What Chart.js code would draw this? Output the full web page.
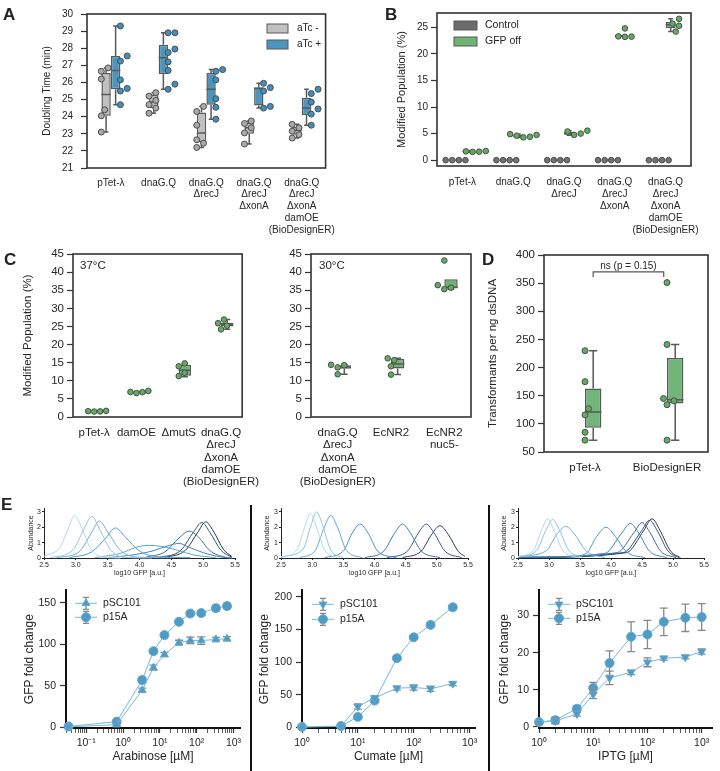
<!DOCTYPE html>
<html>
<head>
<meta charset="utf-8">
<script src="https://cdn.jsdelivr.net/npm/chart.js@4.4.1/dist/chart.umd.min.js"></script>
<style>
  body { margin: 0; background: #fff; font-family: "Liberation Sans", Arial, sans-serif; color: #222; }
  #fig { position: relative; width: 720px; height: 771px; overflow: hidden; }
  #fig canvas, .lbl, .sep { position: absolute; }
  .lbl { font-weight: bold; font-size: 17px; line-height: 17px; z-index: 2; }
  .sep { background: #111; width: 2px; z-index: 2; }
</style>
</head>
<body>
<div id="fig">
  <canvas id="chartA" width="345" height="250" style="left:0;top:0"></canvas>
  <canvas id="chartB" width="360" height="290" style="left:360px;top:0"></canvas>
  <canvas id="chartC37" width="270" height="260" style="left:0;top:240px"></canvas>
  <canvas id="chartC30" width="210" height="260" style="left:272px;top:240px"></canvas>
  <canvas id="chartD" width="240" height="260" style="left:480px;top:240px"></canvas>
  <canvas id="kdeAra" width="245" height="80" style="left:0;top:500px"></canvas>
  <canvas id="kdeCum" width="234" height="80" style="left:254px;top:500px"></canvas>
  <canvas id="kdeIptg" width="229" height="80" style="left:491px;top:500px"></canvas>
  <canvas id="doseAra" width="250" height="191" style="left:0;top:580px"></canvas>
  <canvas id="doseCum" width="234" height="191" style="left:254px;top:580px"></canvas>
  <canvas id="doseIptg" width="229" height="191" style="left:491px;top:580px"></canvas>
  <div class="lbl" style="left:3px;top:6px">A</div>
  <div class="lbl" style="left:385px;top:6px">B</div>
  <div class="lbl" style="left:4px;top:251px">C</div>
  <div class="lbl" style="left:482px;top:251px">D</div>
  <div class="lbl" style="left:1px;top:496px">E</div>
  <div class="sep" style="left:250px;top:505px;height:266px"></div>
  <div class="sep" style="left:488px;top:505px;height:266px"></div>
</div>
<script>
// ---- data ----
const strainsAB = ['pTet-λ', 'dnaG.Q', ['dnaG.Q', 'ΔrecJ'], ['dnaG.Q', 'ΔrecJ', 'ΔxonA'],
  ['dnaG.Q', 'ΔrecJ', 'ΔxonA', 'damOE', '(BioDesignER)']];
const strainsC37 = ['pTet-λ', 'damOE', 'ΔmutS', ['dnaG.Q', 'ΔrecJ', 'ΔxonA', 'damOE', '(BioDesignER)']];
const strainsC30 = [['dnaG.Q', 'ΔrecJ', 'ΔxonA', 'damOE', '(BioDesignER)'], 'EcNR2', ['EcNR2', 'nuc5-']];
const strainsD = ['pTet-λ', 'BioDesignER'];

// box stats: [whisker low, q1, median, q3, whisker high]
const doublingNegBox = [[23.1, 24.05, 25.3, 26.55, 26.85], [24.2, 24.5, 24.85, 25.3, 25.4], [22.2, 22.5, 23.05, 24.25, 24.6], [22.4, 23.0, 23.35, 23.65, 23.75], [22.75, 22.95, 23.2, 23.4, 23.55]];
const doublingPosBox = [[24.7, 25.6, 26.7, 27.55, 29.3], [25.6, 26.5, 27.45, 28.2, 28.9], [23.85, 24.7, 25.6, 26.55, 26.75], [24.5, 24.65, 25.65, 25.72, 25.95], [23.5, 24.1, 24.5, 25.1, 25.6]];
const doublingNegPts = [[26.85, 26.65, 26.2, 24.4, 24.05, 23.1], [25.4, 25.2, 24.95, 24.7, 24.5, 24.2], [24.6, 24.3, 23.5, 22.65, 22.45, 22.2], [23.75, 23.6, 23.35, 23.05, 22.4], [23.55, 23.35, 23.15, 22.95, 22.75]];
const doublingPosPts = [[29.3, 27.55, 27.25, 26.15, 25.65, 25.5, 24.7], [28.9, 28.9, 27.95, 27.75, 27.2, 26.7, 25.9, 25.6], [26.75, 26.65, 26.15, 25.05, 24.55, 23.85], [25.95, 25.7, 25.5, 24.6, 24.5], [25.6, 25.35, 24.85, 24.45, 24.15, 23.5]];

const controlBox = [[0, 0, 0, 0, 0], [0, 0, 0, 0, 0], [0, 0, 0, 0, 0], [0, 0, 0, 0, 0], [0, 0, 0, 0, 0]];
const controlPts = [[0, 0, 0, 0], [0, 0, 0, 0], [0, 0, 0, 0], [0, 0, 0, 0], [0, 0, 0, 0]];
const gfpOffBox = [[1.5, 1.55, 1.62, 1.7, 1.75], [4.3, 4.4, 4.55, 4.75, 4.9], [4.7, 4.8, 5.0, 5.35, 5.55], [23.2, 23.2, 23.35, 23.6, 23.6], [24.2, 24.9, 25.5, 26.0, 26.6]];
const gfpOffPts = [[1.55, 1.6, 1.65, 1.72], [4.9, 4.4, 4.3, 4.6, 4.75], [4.75, 5.0, 5.4, 5.55], [24.8, 23.25, 23.2, 23.3], [26.6, 25.7, 25.3, 24.2]];

const modified37Box = [[1.5, 1.55, 1.6, 1.65, 1.7], [6.6, 6.75, 6.9, 7.05, 7.2], [11.1, 11.4, 12.9, 14.4, 14.8], [24.2, 25.0, 25.5, 26.0, 26.9]];
const modified37Pts = [[1.5, 1.55, 1.6, 1.7], [7.2, 6.9, 6.6, 6.85], [14.8, 14.0, 12.2, 11.3], [26.9, 25.9, 25.2, 24.2]];
const modified30Box = [[11.8, 13.3, 13.8, 14.3, 14.5], [11.7, 13.4, 14.6, 16.0, 16.2], [35.3, 35.5, 35.8, 38.0, 38.0]];
const modified30Pts = [[14.3, 13.7, 14.4, 11.8], [16.2, 15.7, 14.0, 11.7], [43.2, 36.4, 35.7, 35.3]];

const transformBox = [[71, 93, 121, 163, 230], [71, 136, 143, 217, 241]];
const transformPts = [[230, 175, 127, 116, 85, 71], [351, 241, 145, 141, 134, 71]];

// E: dose responses
const arabinoseUM = [0.033, 0.67, 3.3, 6.7, 13.3, 33, 67, 133, 333, 667];
const arabP15A = [0.8, 6.7, 56.8, 91.6, 111, 127, 137, 137.5, 143.5, 146];
const arabP15AErr = [0.8, 1.5, 3.5, 2.5, 2.5, 3, 2.5, 2.5, 3.5, 3.5];
const arabPSC101 = [0.4, 3, 44.6, 71.8, 87.6, 101.8, 104.6, 104.4, 105.8, 106.6];
const arabPSC101Err = [0.5, 1, 2.5, 3, 2.5, 3, 4, 4.5, 2.5, 2.5];

const cumateUM = [1, 5, 10, 20, 50, 100, 200, 500];
const cumP15A = [0.8, 2, 16, 41, 106, 138, 157, 184];
const cumP15AErr = [1, 1, 2, 2, 3, 3, 3.5, 4];
const cumPSC101 = [0.5, 1.5, 32, 45, 60, 61, 59, 67];
const cumPSC101Err = [0.5, 1, 4, 3, 3, 4, 4, 3];

const iptgUM = [1, 2, 5, 10, 20, 50, 100, 200, 500, 1000];
const iptgP15A = [1.3, 1.8, 4.9, 10.5, 17.2, 24.3, 24.9, 28.3, 29.4, 29.6];
const iptgP15AErr = [0.5, 0.8, 0.8, 1.5, 3.3, 4, 3.8, 3.7, 3.7, 3.6];
const iptgPSC101 = [1.2, 1.6, 3.5, 8.8, 13.2, 14.7, 17.4, 18.5, 18.8, 20.3];
const iptgPSC101Err = [0.5, 0.8, 0.6, 1.2, 1.8, 0.6, 1.2, 0.5, 0.5, 0.7];

// E: GFP distributions [log10 GFP, abundance]
const arabKde = [
  [[2.5, 0.1], [2.75, 0.7], [2.88, 1.9], [2.98, 2.75], [3.1, 1.9], [3.22, 0.7], [3.4, 0.08], [3.7, 0]],
  [[2.6, 0.02], [2.95, 0.5], [3.13, 1.9], [3.25, 2.7], [3.37, 1.9], [3.55, 0.5], [3.8, 0.03], [4.2, 0]],
  [[2.7, 0.02], [3.05, 0.4], [3.24, 1.6], [3.37, 2.4], [3.5, 1.7], [3.7, 0.5], [4.0, 0.05], [4.5, 0.02]],
  [[2.9, 0.02], [3.25, 0.4], [3.47, 1.3], [3.62, 1.95], [3.78, 1.35], [4.0, 0.45], [4.3, 0.08], [4.8, 0.02]],
  [[3.3, 0.02], [3.7, 0.3], [3.95, 0.7], [4.15, 0.82], [4.35, 0.75], [4.6, 0.5], [4.85, 0.2], [5.2, 0.02]],
  [[3.5, 0.02], [3.9, 0.2], [4.2, 0.45], [4.45, 0.8], [4.62, 0.95], [4.78, 0.7], [5.0, 0.35], [5.3, 0.05], [5.45, 0]],
  [[4.1, 0.05], [4.4, 0.4], [4.62, 1.3], [4.78, 1.75], [4.93, 1.35], [5.1, 0.5], [5.35, 0.05], [5.45, 0]],
  [[4.3, 0.02], [4.65, 0.5], [4.85, 1.7], [4.98, 2.3], [5.1, 1.7], [5.28, 0.5], [5.45, 0.05]],
  [[4.4, 0.02], [4.72, 0.5], [4.92, 1.7], [5.04, 2.35], [5.16, 1.75], [5.32, 0.55], [5.45, 0.1]]
];
const cumKde = [
  [[2.5, 0.05], [2.75, 0.5], [2.88, 2.0], [2.97, 2.9], [3.07, 2.0], [3.2, 0.5], [3.4, 0.02]],
  [[2.5, 0.08], [2.85, 0.55], [2.98, 2.1], [3.07, 3.0], [3.17, 2.1], [3.3, 0.5], [3.5, 0.02]],
  [[2.8, 0.02], [3.05, 0.5], [3.19, 1.95], [3.3, 2.75], [3.41, 1.95], [3.55, 0.5], [3.8, 0.02]],
  [[3.2, 0.02], [3.5, 0.45], [3.64, 1.6], [3.77, 2.2], [3.9, 1.6], [4.05, 0.45], [4.35, 0.02]],
  [[3.85, 0.02], [4.15, 0.45], [4.32, 1.6], [4.45, 2.2], [4.58, 1.6], [4.75, 0.45], [5.05, 0.02]],
  [[4.2, 0.02], [4.53, 0.45], [4.7, 1.6], [4.83, 2.2], [4.96, 1.6], [5.13, 0.45], [5.4, 0.02]],
  [[4.45, 0.02], [4.75, 0.45], [4.92, 1.55], [5.05, 2.1], [5.18, 1.55], [5.35, 0.4], [5.45, 0.1]]
];
const iptgKde = [
  [[2.5, 0.1], [2.75, 0.5], [2.88, 1.8], [2.98, 2.55], [3.08, 1.8], [3.22, 0.5], [3.45, 0.03]],
  [[2.5, 0.05], [2.8, 0.5], [2.95, 1.8], [3.06, 2.5], [3.17, 1.8], [3.32, 0.5], [3.55, 0.03]],
  [[2.5, 0.1], [2.95, 0.45], [3.12, 1.5], [3.27, 2.05], [3.42, 1.5], [3.6, 0.45], [3.9, 0.03]],
  [[3.3, 0.05], [3.6, 0.3], [3.77, 1.4], [3.92, 2.0], [4.07, 1.4], [4.25, 0.4], [4.55, 0.02]],
  [[2.5, 0.05], [3.9, 0.3], [4.17, 1.6], [4.31, 2.25], [4.45, 1.6], [4.62, 0.45], [4.9, 0.02]],
  [[2.5, 0.05], [4.1, 0.35], [4.37, 1.65], [4.5, 2.3], [4.63, 1.65], [4.8, 0.45], [5.05, 0.02]],
  [[2.5, 0.03], [4.2, 0.35], [4.49, 1.75], [4.62, 2.45], [4.75, 1.75], [4.92, 0.45], [5.1, 0.02]],
  [[2.5, 0.02], [4.25, 0.35], [4.53, 1.8], [4.66, 2.55], [4.79, 1.8], [4.96, 0.45], [5.12, 0.02]]
];

// ---- styles ----
const FONT = '"Liberation Sans", Arial, sans-serif';
Chart.defaults.font.family = FONT;
Chart.defaults.color = '#262626';
Chart.defaults.animation = false;
Chart.defaults.responsive = false;
Chart.defaults.plugins.legend.display = false;
Chart.defaults.plugins.tooltip.enabled = false;

const kdeColors9 = ['#b3d5ee', '#8cc2e6', '#6aaedd', '#4d9bd3', '#5aa3d6', '#3f86c3', '#3a6fa5', '#30506f', '#263a50'];
const kdeColors7 = ['#b3d5ee', '#8cc2e6', '#62a9db', '#3f8fcc', '#3a76b0', '#335b88', '#2a3f5a'];
const kdeColors8 = ['#b3d5ee', '#8cc2e6', '#6aaedd', '#4a98d0', '#3f84c0', '#3a6fa5', '#334f75', '#283a52'];

// ---- plugins ----
const frame = {
  id: 'frame',
  afterDraw(chart, args, o) {
    if (!o.on) return;
    const { ctx, chartArea: a } = chart;
    ctx.save();
    ctx.strokeStyle = '#333';
    ctx.lineWidth = 1.6;
    ctx.strokeRect(a.left, a.top, a.right - a.left, a.bottom - a.top);
    ctx.restore();
  }
};

// medians and whiskers on top of the floating bars
const boxParts = {
  id: 'boxParts',
  afterDatasetDraw(chart, args) {
    const ds = chart.data.datasets[args.index];
    if (!ds.stats) return;
    const y = chart.scales.y, ctx = chart.ctx;
    ctx.save();
    ctx.strokeStyle = '#595959';
    ctx.lineWidth = 1.5;
    args.meta.data.forEach((bar, i) => {
      const [lo, q1, med, q3, hi] = ds.stats[i];
      const half = bar.width / 2, x = bar.x;
      ctx.beginPath();
      ctx.moveTo(x - half, y.getPixelForValue(med));
      ctx.lineTo(x + half, y.getPixelForValue(med));
      if (hi > q3) {
        ctx.moveTo(x, y.getPixelForValue(q3)); ctx.lineTo(x, y.getPixelForValue(hi));
        ctx.moveTo(x - half / 2, y.getPixelForValue(hi)); ctx.lineTo(x + half / 2, y.getPixelForValue(hi));
      }
      if (lo < q1) {
        ctx.moveTo(x, y.getPixelForValue(q1)); ctx.lineTo(x, y.getPixelForValue(lo));
        ctx.moveTo(x - half / 2, y.getPixelForValue(lo)); ctx.lineTo(x + half / 2, y.getPixelForValue(lo));
      }
      ctx.stroke();
    });
    ctx.restore();
  }
};

const swatch = {
  id: 'swatch',
  afterDraw(chart, args, o) {
    if (!o.items) return;
    const { ctx, chartArea: a } = chart;
    ctx.save();
    o.items.forEach((it, k) => {
      const x = a.left + o.x, y = a.top + o.y + k * o.gap;
      ctx.fillStyle = it.color;
      ctx.fillRect(x, y - 4.5, o.w, 9);
      ctx.strokeStyle = '#595959';
      ctx.lineWidth = 1;
      ctx.strokeRect(x, y - 4.5, o.w, 9);
      ctx.fillStyle = '#262626';
      ctx.font = o.size + 'px ' + FONT;
      ctx.textBaseline = 'middle';
      ctx.textAlign = 'left';
      ctx.fillText(it.text, x + o.w + o.tx, y);
    });
    ctx.restore();
  }
};

const notes = {
  id: 'notes',
  afterDraw(chart, args, o) {
    const { ctx, chartArea: a } = chart;
    ctx.save();
    ctx.fillStyle = '#262626';
    if (o.corner) {
      ctx.font = '11.5px ' + FONT;
      ctx.textBaseline = 'middle';
      ctx.textAlign = 'left';
      ctx.fillText(o.corner, a.left + o.dx, a.top + o.dy);
    }
    if (o.bracket) {
      const b = o.bracket, xs = chart.scales.xp, ys = chart.scales.y;
      const x1 = xs.getPixelForValue(b.from), x2 = xs.getPixelForValue(b.to);
      const yb = ys.getPixelForValue(b.y), yd = ys.getPixelForValue(b.y - b.drop);
      ctx.strokeStyle = '#555';
      ctx.lineWidth = 1.2;
      ctx.beginPath();
      ctx.moveTo(x1, yd); ctx.lineTo(x1, yb); ctx.lineTo(x2, yb); ctx.lineTo(x2, yd);
      ctx.stroke();
      ctx.font = '10px ' + FONT;
      ctx.textAlign = 'center';
      ctx.textBaseline = 'bottom';
      ctx.fillText(b.text, (x1 + x2) / 2, yb - 1);
    }
    ctx.restore();
  }
};

const errorBars = {
  id: 'errorBars',
  beforeDatasetDraw(chart, args) {
    const ds = chart.data.datasets[args.index];
    if (!ds.errors) return;
    const ys = chart.scales.y, ctx = chart.ctx;
    ctx.save();
    ctx.strokeStyle = '#888';
    ctx.lineWidth = 1.3;
    args.meta.data.forEach((pt, i) => {
      const v = ds.data[i].y, e = ds.errors[i];
      const t = ys.getPixelForValue(v + e), b = ys.getPixelForValue(v - e);
      ctx.beginPath();
      ctx.moveTo(pt.x, t); ctx.lineTo(pt.x, b);
      ctx.moveTo(pt.x - 4, t); ctx.lineTo(pt.x + 4, t);
      ctx.moveTo(pt.x - 4, b); ctx.lineTo(pt.x + 4, b);
      ctx.stroke();
    });
    ctx.restore();
  }
};

const doseLegend = {
  id: 'doseLegend',
  afterDraw(chart, args, o) {
    const { ctx, chartArea: a } = chart;
    ctx.save();
    chart.data.datasets.forEach((ds, k) => {
      const x0 = a.left + o.x, y = a.top + o.y + k * o.gap, cx = x0 + 11;
      ctx.strokeStyle = ds.borderColor; ctx.lineWidth = 1;
      ctx.beginPath(); ctx.moveTo(x0, y); ctx.lineTo(x0 + 22, y); ctx.stroke();
      ctx.strokeStyle = '#888'; ctx.lineWidth = 1.3;
      ctx.beginPath();
      ctx.moveTo(cx, y - 6); ctx.lineTo(cx, y + 6);
      ctx.moveTo(cx - 3, y - 6); ctx.lineTo(cx + 3, y - 6);
      ctx.moveTo(cx - 3, y + 6); ctx.lineTo(cx + 3, y + 6);
      ctx.stroke();
      ctx.fillStyle = ds.pointBackgroundColor; ctx.strokeStyle = ds.pointBorderColor; ctx.lineWidth = 1;
      Chart.helpers.drawPoint(ctx, { pointStyle: ds.pointStyle, radius: ds.pointRadius, rotation: ds.pointRotation || 0, borderWidth: 1 }, cx, y);
      ctx.fillStyle = '#262626';
      ctx.font = '10.5px ' + FONT;
      ctx.textBaseline = 'middle';
      ctx.textAlign = 'left';
      ctx.fillText(ds.label, x0 + 28, y);
    });
    ctx.restore();
  }
};

// ---- helpers ----
function swarmX(vals, center, kx, ky, d) {
  const order = vals.map((_, i) => i).sort((a, b) => vals[a] - vals[b]);
  const placed = [], out = [];
  order.forEach(i => {
    const py = vals[i] * ky;
    let off = 0;
    for (let s = 0; s < 30; s++) {
      const c = (s % 2 ? 1 : -1) * Math.ceil(s / 2) * d * 0.5;
      if (!placed.some(p => Math.hypot(p.x - c, p.y - py) < d * 0.95)) { off = c; break; }
    }
    placed.push({ x: off, y: py });
    out[i] = center + off / kx;
  });
  return out;
}

const SUP = { '-': '⁻', '0': '⁰', '1': '¹', '2': '²', '3': '³' };
function decadeLabel(v) {
  const e = Math.log10(v);
  if (Math.abs(e - Math.round(e)) > 1e-6) return '';
  return '10' + String(Math.round(e)).split('').map(c => SUP[c]).join('');
}
function logTicks(min, max) {
  const out = [];
  for (let e = Math.floor(Math.log10(min)); e <= Math.ceil(Math.log10(max)); e++) {
    for (let m = 1; m < 10; m++) {
      const v = Number((m * Math.pow(10, e)).toPrecision(6));
      if (v >= min && v <= max) out.push(v);
    }
  }
  return out;
}

function boxChart(id, p) {
  const n = p.labels.length;
  const datasets = [];
  p.groups.forEach((g, h) => {
    const shift = (h - (p.groups.length - 1) / 2) * p.catPct / p.groups.length;
    datasets.push({
      type: 'line', showLine: false, xAxisID: 'xp', order: 0, clip: false,
      data: g.points.flatMap((vals, i) => swarmX(vals, i + shift, p.kx, p.ky, p.dot * 2 + 1).map((x, k) => ({ x, y: vals[k] }))),
      pointRadius: p.dot, pointBackgroundColor: g.dot, pointBorderColor: '#4d4d4d', pointBorderWidth: 1
    });
    datasets.push({
      type: 'bar', label: g.name, order: 1, stats: g.box,
      data: g.box.map(s => [s[1], s[3]]),
      backgroundColor: g.color, borderColor: '#595959', borderWidth: 1.5, borderSkipped: false,
      categoryPercentage: p.catPct, barPercentage: p.barPct
    });
  });
  return new Chart(document.getElementById(id), {
    type: 'bar',
    data: { labels: p.labels, datasets },
    options: {
      layout: { padding: { top: p.pad[0], right: p.pad[1], bottom: 0, left: 0 } },
      scales: {
        x: {
          grid: { display: false, drawTicks: false }, border: { display: false },
          ticks: { font: { size: p.xFont, lineHeight: p.xLine }, padding: p.xPad, maxRotation: 0, autoSkip: false },
          afterFit: s => { s.height = p.xH; }
        },
        xp: { type: 'linear', position: 'bottom', offset: false, min: -0.5, max: n - 0.5, display: false },
        y: {
          min: p.yMin, max: p.yMax, border: { display: false },
          grid: { drawOnChartArea: false, tickLength: 6, tickColor: '#333', tickWidth: 1.2 },
          ticks: { stepSize: p.yStep, includeBounds: false, padding: p.yPad || 3, font: { size: p.yFont } },
          title: { display: !!p.yTitle, text: p.yTitle, font: { size: p.titleFont }, padding: { top: p.titlePad, bottom: 0 } },
          afterFit: s => { s.width = p.yW; }
        }
      },
      plugins: { frame: { on: true }, swatch: p.legend || {}, notes: p.notes || {} }
    },
    plugins: [frame, boxParts, swatch, notes]
  });
}

function kdeChart(id, p) {
  return new Chart(document.getElementById(id), {
    type: 'line',
    data: {
      datasets: p.curves.map((c, k) => ({
        data: c.map(([x, y]) => ({ x, y })), borderColor: p.colors[k], borderWidth: 1,
        pointRadius: 0, cubicInterpolationMode: 'monotone', clip: false
      }))
    },
    options: {
      layout: { padding: { top: p.pad[0], right: p.pad[1], bottom: 0, left: 0 } },
      scales: {
        x: {
          type: 'linear', min: 2.5, max: 5.5,
          ticks: { stepSize: 0.5, callback: v => v.toFixed(1), font: { size: 7 }, padding: 1, maxRotation: 0, autoSkip: false },
          grid: { drawOnChartArea: false, tickLength: 2, tickColor: '#222' },
          border: { display: true, color: '#222', width: 1 },
          title: { display: true, text: 'log10 GFP [a.u.]', font: { size: 7 }, padding: { top: 0, bottom: 2.8 } },
          afterFit: s => { s.height = 22; }
        },
        y: {
          min: 0, max: 3.25,
          ticks: { stepSize: 1, includeBounds: false, font: { size: 7 }, padding: 1 },
          grid: { drawOnChartArea: false, tickLength: 2, tickColor: '#222' },
          border: { display: true, color: '#222', width: 1 },
          title: { display: true, text: 'Abundance', font: { size: 7 }, padding: { top: p.titlePad, bottom: 0 } },
          afterFit: s => { s.width = p.yW; }
        }
      }
    }
  });
}

function doseChart(id, p) {
  const series = (name, ys, errs, style, rot) => ({
    label: name, data: p.x.map((x, i) => ({ x, y: ys[i] })), errors: errs,
    borderColor: '#74b9de', borderWidth: 1, pointStyle: style, pointRotation: rot, pointRadius: 4.5,
    pointBackgroundColor: '#4e9bc6', pointBorderColor: '#62a8d0', pointBorderWidth: 1, clip: false
  });
  return new Chart(document.getElementById(id), {
    type: 'line',
    data: {
      datasets: [
        series('pSC101', p.sc, p.scErr, 'triangle', p.triRot),
        series('p15A', p.p15, p.p15Err, 'circle', 0)
      ]
    },
    options: {
      layout: { padding: { top: p.pad[0], right: p.pad[1], bottom: 0, left: 0 } },
      scales: {
        x: {
          type: 'logarithmic', min: p.xMin, max: p.xMax,
          afterBuildTicks: s => { s.ticks = logTicks(p.xMin, p.xMax).map(v => ({ value: v })); },
          ticks: { callback: v => decadeLabel(v), autoSkip: false, maxRotation: 0, padding: 4, font: { size: 10.5 } },
          grid: { drawOnChartArea: false, tickLength: 5, tickColor: '#333', tickWidth: c => (c.tick && decadeLabel(c.tick.value) ? 1.2 : 0.8) },
          border: { display: true, color: '#111', width: 2 },
          title: { display: true, text: p.xTitle, font: { size: 12 }, padding: { top: 0, bottom: 6.8 } },
          afterFit: s => { s.height = 43; }
        },
        y: {
          min: p.yMin, max: p.yMax,
          ticks: { stepSize: p.yStep, includeBounds: false, padding: 4, font: { size: 10.5 } },
          grid: { drawOnChartArea: false, tickLength: 6, tickColor: '#333', tickWidth: 1.2 },
          border: { display: true, color: '#111', width: 2 },
          title: { display: true, text: 'GFP fold change', font: { size: 12 }, padding: { top: p.titlePad, bottom: 0 } },
          afterFit: s => { s.width = p.yW; }
        }
      },
      plugins: { doseLegend: p.legend }
    },
    plugins: [errorBars, doseLegend]
  });
}

// ---- A: doubling time ----
boxChart('chartA', {
  labels: strainsAB,
  groups: [
    { name: 'aTc -', color: '#c0c0c0', dot: '#a9a9a9', box: doublingNegBox, points: doublingNegPts },
    { name: 'aTc +', color: '#4a96bf', dot: '#3f8fbf', box: doublingPosBox, points: doublingPosPts }
  ],
  catPct: 0.8, barPct: 0.98, kx: 49.2, ky: 17.1, dot: 3,
  pad: [14, 12], xH: 82, yW: 87, yMin: 21, yMax: 30, yStep: 1,
  xFont: 10, xLine: 1.18, xPad: 9, yFont: 10, yPad: 8,
  yTitle: 'Doubling Time (min)', titleFont: 10, titlePad: 41,
  legend: { items: [{ text: 'aTc -', color: '#c0c0c0' }, { text: 'aTc +', color: '#4a96bf' }], x: 180, y: 14.5, gap: 16, w: 21, tx: 9, size: 10 }
});

// ---- B: modified population ----
boxChart('chartB', {
  labels: strainsAB,
  groups: [
    { name: 'Control', color: '#6b6b6b', dot: '#727272', box: controlBox, points: controlPts },
    { name: 'GFP off', color: '#6fb472', dot: '#5fae5f', box: gfpOffBox, points: gfpOffPts }
  ],
  catPct: 0.8, barPct: 0.98, kx: 50.8, ky: 5.3, dot: 2.8,
  pad: [13, 29], xH: 124, yW: 77, yMin: -1.1, yMax: 27.7, yStep: 5,
  xFont: 10, xLine: 1.2, xPad: 10, yFont: 10,
  yTitle: 'Modified Population (%)', titleFont: 11, titlePad: 35.4,
  legend: { items: [{ text: 'Control', color: '#6b6b6b' }, { text: 'GFP off', color: '#6fb472' }], x: 17, y: 12.5, gap: 16, w: 23, tx: 8, size: 10.5 }
});

// ---- C: 37 and 30 degrees ----
boxChart('chartC37', {
  labels: strainsC37,
  groups: [{ name: 'GFP off', color: '#6fb472', dot: '#5fae5f', box: modified37Box, points: modified37Pts }],
  catPct: 0.58, barPct: 1, kx: 46.75, ky: 3.6, dot: 2.8,
  pad: [14, 10], xH: 83, yW: 73, yMin: 0, yMax: 45, yStep: 5,
  xFont: 11.5, xLine: 1.07, xPad: 9.7, yFont: 11.5,
  yTitle: 'Modified Population (%)', titleFont: 11.5, titlePad: 21,
  notes: { corner: '37°C', dx: 7, dy: 12 }
});
boxChart('chartC30', {
  labels: strainsC30,
  groups: [{ name: 'GFP off', color: '#6fb472', dot: '#5fae5f', box: modified30Box, points: modified30Pts }],
  catPct: 0.5, barPct: 1, kx: 53.3, ky: 3.6, dot: 2.8,
  pad: [14, 11], xH: 83, yW: 39, yMin: 0, yMax: 45, yStep: 5,
  xFont: 11.5, xLine: 1.07, xPad: 9.7, yFont: 11.5,
  notes: { corner: '30°C', dx: 8, dy: 12 }
});

// ---- D: transformants ----
boxChart('chartD', {
  labels: strainsD,
  groups: [{ name: 'GFP off', color: '#72b57a', dot: '#5fae5f', box: transformBox, points: transformPts }],
  catPct: 0.4, barPct: 1, kx: 82, ky: 0.563, dot: 3,
  pad: [15, 12], xH: 48, yW: 64, yMin: 50, yMax: 400, yStep: 50,
  xFont: 11.5, xLine: 1.1, xPad: 9.7, yFont: 11.5,
  yTitle: 'Transformants per ng dsDNA', titleFont: 11.5, titlePad: 6,
  notes: { bracket: { from: 0.1, to: 0.96, y: 370, drop: 9, text: 'ns (p = 0.15)' } }
});

// ---- E: distributions ----
kdeChart('kdeAra', { curves: arabKde, colors: kdeColors9, pad: [8, 10], yW: 44, titlePad: 26.8 });
kdeChart('kdeCum', { curves: cumKde, colors: kdeColors7, pad: [8, 20], yW: 27, titlePad: 8.8 });
kdeChart('kdeIptg', { curves: iptgKde, colors: kdeColors8, pad: [8, 16], yW: 27, titlePad: 8.8 });

// ---- E: dose responses ----
doseChart('doseAra', {
  x: arabinoseUM, sc: arabPSC101, scErr: arabPSC101Err, p15: arabP15A, p15Err: arabP15AErr, triRot: 0,
  xMin: 0.0282, xMax: 1500, yMin: -1, yMax: 165, yStep: 50, xTitle: 'Arabinose [µM]',
  pad: [7, 10], yW: 66, titlePad: 22.8, legend: { x: 9, y: 13, gap: 14 }
});
doseChart('doseCum', {
  x: cumateUM, sc: cumPSC101, scErr: cumPSC101Err, p15: cumP15A, p15Err: cumP15AErr, triRot: 180,
  xMin: 1, xMax: 1250, yMin: -1, yMax: 210, yStep: 50, xTitle: 'Cumate [µM]',
  pad: [3, 13], yW: 48, titlePad: 3.8, legend: { x: 10, y: 14, gap: 15 }
});
doseChart('doseIptg', {
  x: iptgUM, sc: iptgPSC101, scErr: iptgPSC101Err, p15: iptgP15A, p15Err: iptgP15AErr, triRot: 180,
  xMin: 1, xMax: 1550, yMin: -0.3, yMax: 36.8, yStep: 10, xTitle: 'IPTG [µM]',
  pad: [7, 8], yW: 48, titlePad: 6.8, legend: { x: 9, y: 14, gap: 14 }
});
</script>
</body>
</html>
